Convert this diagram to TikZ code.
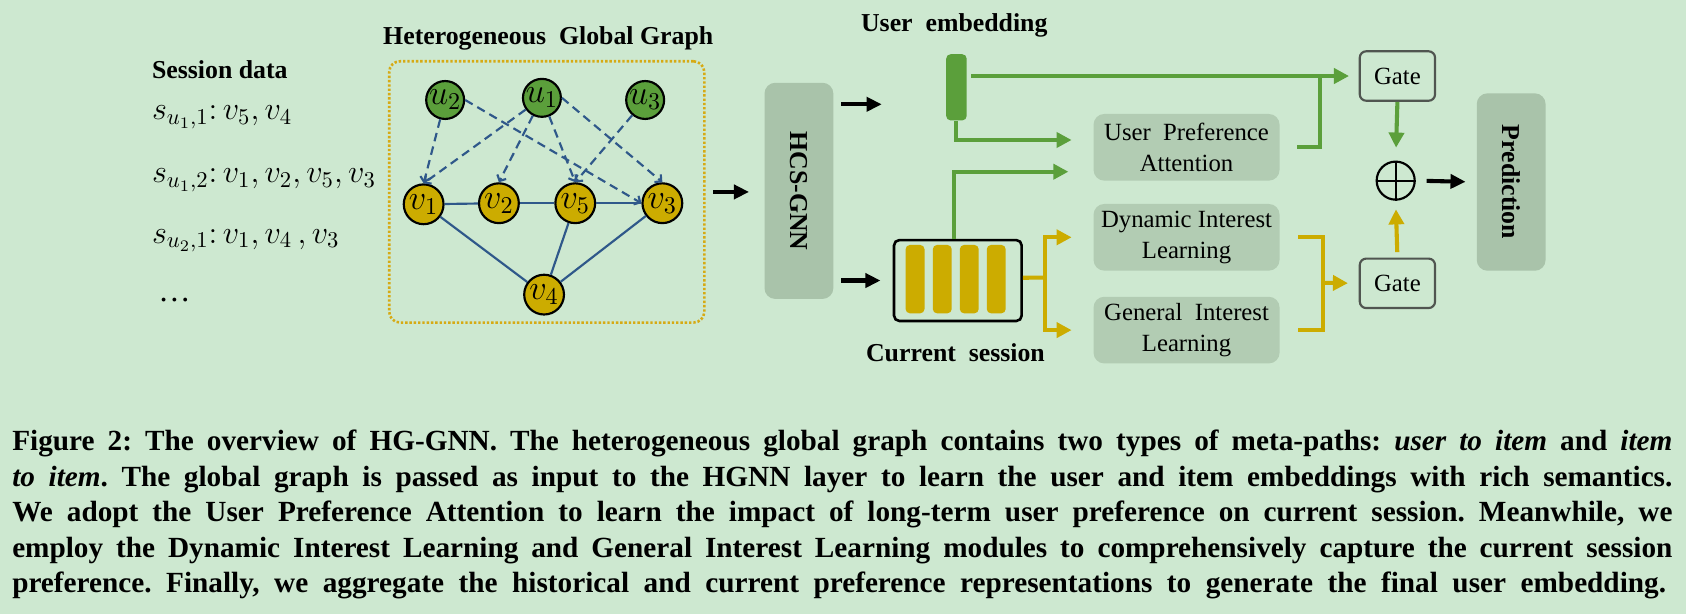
\RequirePackage{fix-cm}
\documentclass[tikz,border=0pt]{standalone}
\usepackage{fontspec}
\setmainfont{Liberation Serif}
\usepackage{graphicx}
\usetikzlibrary{arrows.meta}
\frenchspacing

\definecolor{bgcol}{RGB}{205,232,208}
\definecolor{usergreen}{RGB}{91,159,59}
\definecolor{itemgold}{RGB}{204,172,0}
\definecolor{framegold}{RGB}{214,170,20}
\definecolor{edgeblue}{RGB}{47,88,138}
\definecolor{boxdark}{RGB}{169,195,170}
\definecolor{boxlight}{RGB}{178,204,179}
\definecolor{gateline}{RGB}{80,85,80}

\begin{document}
\begin{tikzpicture}[x=0.5pt,y=-0.5pt,
  titletext/.style={inner sep=0pt,font=\fontsize{12}{14}\selectfont\bfseries},
  seqtext/.style={anchor=base west,inner sep=0pt,font=\fontsize{15}{17}\selectfont},
  captext/.style={anchor=base west,inner sep=0pt,font=\fontsize{13.6}{16.5}\selectfont\bfseries},
  unode/.style={circle,draw=black,line width=1pt,fill=usergreen,minimum size=17pt,inner sep=0pt,font=\fontsize{16}{16}\selectfont},
  vnode/.style={circle,draw=black,line width=1pt,fill=itemgold,minimum size=18.5pt,inner sep=0pt,font=\fontsize{16}{16}\selectfont},
  metapath/.style={edgeblue,line width=1pt,dash pattern=on 4pt off 2.5pt,-{Straight Barb[length=2.2pt,width=4.6pt]}},
  cooccur/.style={edgeblue,line width=1pt},
  graphframe/.style={draw=framegold,line width=1.2pt,dash pattern=on 1.1pt off 0.9pt,rounded corners=5pt,minimum width=146.5pt,minimum height=121.5pt},
  layerbox/.style={fill=boxdark,rounded corners=5pt,minimum width=32pt,inner sep=0pt,font=\fontsize{12}{14}\selectfont\bfseries},
  module/.style={fill=boxlight,rounded corners=5pt,minimum width=86.5pt,minimum height=31pt,inner sep=0pt,align=center,font=\fontsize{11.5}{14.5}\selectfont},
  gate/.style={draw=gateline,line width=1pt,fill=bgcol,rounded corners=3pt,minimum width=35pt,minimum height=23pt,inner sep=0pt,font=\fontsize{11.5}{14}\selectfont},
  itembar/.style={fill=itemgold,rounded corners=2pt,minimum width=8.8pt,minimum height=31.8pt,inner sep=0pt},
  greenline/.style={usergreen,line width=1.9pt},
  greenarrow/.style={greenline,-{Triangle[length=7pt,width=7pt]}},
  goldline/.style={itemgold,line width=1.9pt},
  goldarrow/.style={goldline,-{Triangle[length=7pt,width=7pt]}},
  blackarrow/.style={black,line width=1.9pt,-{Triangle[length=7pt,width=6.5pt]}}
]

\useasboundingbox (0,0) rectangle (1568,571);
\fill [bgcol] (0,0) rectangle (1568,571);

\coordinate (embin) at (820,97);
\coordinate (fork) at (972,258.2);
\coordinate (upjoin) at (1227.6,70.7);
\coordinate (goldjoin) at (1230.7,263);

% session data
\node [titletext,anchor=base west] (sdata) at (141,72.7) {Session data};
\node [seqtext] (seq1) at (141,111.6) {$s_{u_1,1}{:}\,v_5, v_4$};
\node [seqtext] (seq2) at (141,170) {$s_{u_1,2}{:}\,v_1, v_2, v_5, v_3$};
\node [seqtext] (seq3) at (141,226) {$s_{u_2,1}{:}\,v_1, v_4\,, v_3$};
\node [seqtext] (seqmore) at (147,280.5) {\dots};

% global graph
\node [titletext,anchor=base west] (gtitle) at (356,41) {Heterogeneous\ \ Global Graph};
\node [graphframe] (gbox) at (508.5,178.5) {};

\node [unode] (u2) at (414,93) {$u_2$};
\node [unode] (u1) at (504,91) {$u_1$};
\node [unode] (u3) at (600,93) {$u_3$};
\node [vnode] (v1) at (394,190) {$v_1$};
\node [vnode] (v2) at (464,189) {$v_2$};
\node [vnode] (v5) at (535,189) {$v_5$};
\node [vnode] (v3) at (616,189) {$v_3$};
\node [vnode] (v4) at (506,274) {$v_4$};

\draw [cooccur] (v1) -- (v2);
\draw [cooccur] (v2) -- (v5);
\draw [cooccur] (v5) -- (v3);
\draw [cooccur] (v1) -- (v4);
\draw [cooccur] (v5) -- (v4);
\draw [cooccur] (v3) -- (v4);

\draw [metapath] (u2) -- (v1.north);
\draw [metapath] (u2.east) -- (v3.west);
\draw [metapath] (u1) -- (v1.north);
\draw [metapath] (u1) -- (v2.north);
\draw [metapath] (u1) -- (v5.north);
\draw [metapath] (u1.east) -- (v3.north);
\draw [metapath] (u3) -- (v5.north);

% encoder and embeddings
\node [layerbox,minimum height=100.5pt] (hcs) at (743,177.5) {\rotatebox{-90}{HCS-GNN}};

\node [fill=usergreen,rounded corners=2pt,minimum width=9.5pt,minimum height=30.75pt,inner sep=0pt] (embbar) at (889.5,81.2) {};
\node [titletext,anchor=base] (embtitle) at (887.5,29.5) {User\ \ embedding};

\node [draw=black,line width=1.2pt,rounded corners=2.5pt,minimum width=59.35pt,minimum height=37.65pt,inner sep=0pt] (sess) at (890.8,260.9) {};
\node [itembar] (bar1) at (851,259.6) {};
\node [itembar] (bar2) at (876.3,259.6) {};
\node [itembar] (bar3) at (901.4,259.6) {};
\node [itembar] (bar4) at (926.5,259.6) {};
\node [titletext,anchor=base] (sesstitle) at (888.6,336.3) {Current\ \ session};

% modules
\node [module] (upa) at (1103.5,137) {User\ \ Preference\\Attention};
\node [module] (dil) at (1103.5,220.7) {Dynamic Interest\\Learning};
\node [module] (gil) at (1103.5,307) {General\ \ Interest\\Learning};

\node [gate] (gatetop) at (1299.6,70.7) {Gate};
\node [gate] (gatebot) at (1299.6,263.5) {Gate};
\node [circle,draw=black,line width=1pt,minimum size=17.7pt,inner sep=0pt] (oplus) at (1298,168) {};
\draw [black,line width=1pt] (oplus.north) -- (oplus.south) (oplus.west) -- (oplus.east);

\node [layerbox,minimum height=82.5pt] (pred) at (1405.4,169.3) {\rotatebox{-90}{Prediction}};

% connectors
\draw [blackarrow,shorten <=3.5pt,shorten >=7pt] (gbox.east) -- (gbox.east -| hcs.west);
\draw [blackarrow,shorten <=3.5pt] (hcs.east |- embin) -- (embin);
\draw [blackarrow,shorten <=3.5pt,shorten >=5.7pt] (hcs.east |- sess.west) -- (sess.west);

\draw [greenarrow,shorten <=2pt,shorten >=4.5pt] ([yshift=5.25pt]embbar.east) -- ([yshift=5.25pt]embbar.east -| gatetop.west);
\draw [greenarrow,shorten >=10pt] (embbar.south) |- ([yshift=3.4pt]upa.west);
\draw [greenarrow,shorten >=11.5pt] ([xshift=-1.6pt]sess.north) |- ([yshift=-11.35pt]upa.west);
\draw [greenline] ([xshift=8pt]upa.east) -| (upjoin);

\draw [goldline] ([yshift=1.3pt]sess.east) -- (fork);
\draw [goldarrow,shorten >=10pt] (fork) |- (dil.west);
\draw [goldarrow,shorten >=10pt] (fork) |- (gil.west);
\draw [goldline] ([xshift=8.5pt]dil.east) -| (goldjoin) |- ([xshift=8.5pt]gil.east);
\draw [goldarrow,shorten >=5pt] (goldjoin) -- (gatebot.west);

\draw [greenarrow,shorten >=6pt] (gatetop.south) -- (oplus.north);
\draw [goldarrow,shorten <=2.5pt,shorten >=4pt] (gatebot.north) -- (oplus.south);
\draw [blackarrow,shorten <=5pt,shorten >=5pt] (oplus.east) -- (pred.west);

% caption
\node [captext] (cap1) at (11,419.4) {\makebox[772pt][s]{Figure 2: The overview of HG-GNN. The heterogeneous global graph contains two types of meta-paths: \textit{user to item} and \textit{item}}};
\node [captext] (cap2) at (11,452.4) {\makebox[772pt][s]{\textit{to item}. The global graph is passed as input to the HGNN layer to learn the user and item embeddings with rich semantics.}};
\node [captext] (cap3) at (11,485.3) {\makebox[772pt][s]{We adopt the User Preference Attention to learn the impact of long-term user preference on current session. Meanwhile, we}};
\node [captext] (cap4) at (11,518.3) {\makebox[772pt][s]{employ the Dynamic Interest Learning and General Interest Learning modules to comprehensively capture the current session}};
\node [captext] (cap5) at (11,551.2) {\makebox[769pt][s]{preference. Finally, we aggregate the historical and current preference representations to generate the final user embedding.}};

\end{tikzpicture}
\end{document}
